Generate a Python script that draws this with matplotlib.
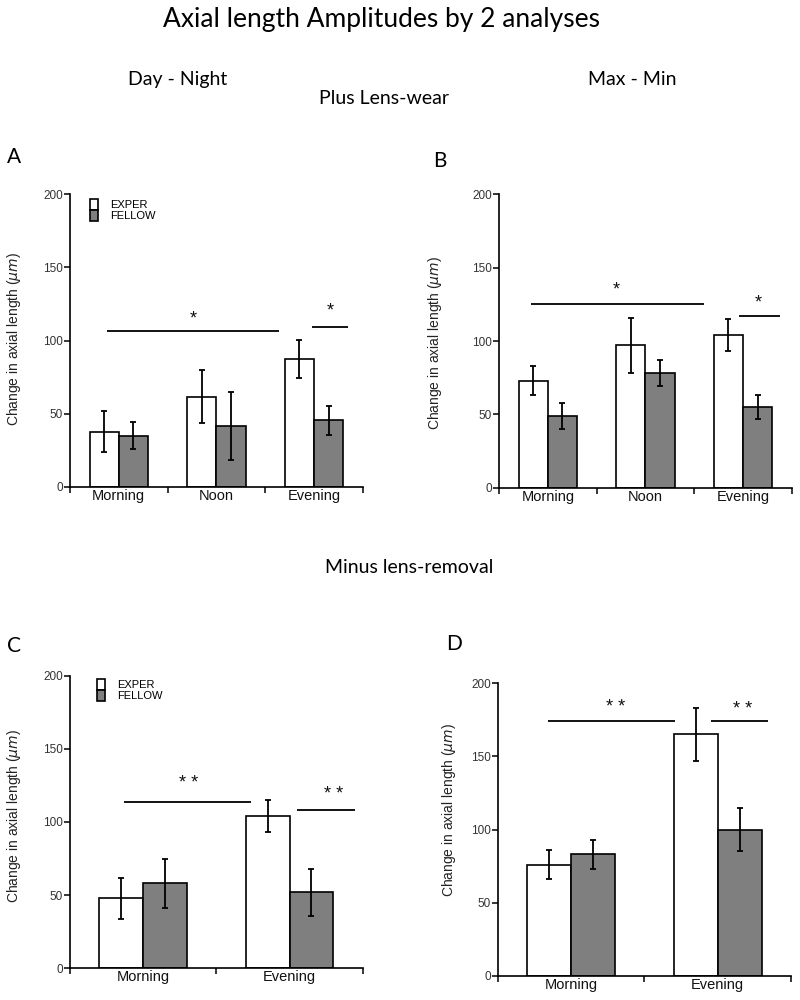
import matplotlib
matplotlib.use("Agg")
import matplotlib.pyplot as plt
import numpy as np

# ---- data ----
cats_3 = ["Morning", "Noon", "Evening"]
cats_2 = ["Morning", "Evening"]

a_exper = [37.5, 61.5, 87.5]
a_exper_err = [14, 18, 13]
a_fellow = [35, 41.5, 45.5]
a_fellow_err = [9, 23, 10]

b_exper = [73, 97, 104]
b_exper_err = [10, 19, 11]
b_fellow = [49, 78, 55]
b_fellow_err = [9, 9, 8]

c_exper = [48, 104]
c_exper_err = [14, 11]
c_fellow = [58, 52]
c_fellow_err = [17, 16]

d_exper = [76, 165]
d_exper_err = [10, 18]
d_fellow = [83, 100]
d_fellow_err = [10, 15]

# significance annotations: (x_start, x_end, y_line, star_x, star_y, label)
a_sig = [(-0.12, 1.64, 106.5, 0.76, 115, "*"), (1.98, 2.35, 109.5, 2.17, 120, "*")]
b_sig = [(-0.17, 1.60, 125, 0.70, 134.5, "*"), (1.96, 2.38, 117, 2.16, 126, "*")]
c_sig = [(-0.13, 0.735, 114, 0.31, 126, "* *"), (1.054, 1.448, 108, 1.30, 118.5, "* *")]
d_sig = [(-0.16, 0.71, 174, 0.306, 183, "* *"), (0.952, 1.342, 174, 1.167, 182, "* *")]

series_labels = ["EXPER", "FELLOW"]
yticks = [0, 50, 100, 150, 200]

AX_FONT = "Liberation Sans"
HEAD_FONT = "Lato"
GRAY = "#7f7f7f"

fig = plt.figure(figsize=(8, 10), dpi=100)

def panel(rect, cats, exper, exper_err, fellow, fellow_err, sigs, legend_pos, ylab_pos):
    ax = fig.add_axes(rect)
    x = np.arange(len(cats))
    w = 0.3
    b1 = ax.bar(x - w / 2, exper, w, color="white", edgecolor="black", linewidth=1.2,
                label=series_labels[0], zorder=2)
    b2 = ax.bar(x + w / 2, fellow, w, color=GRAY, edgecolor="black", linewidth=1.2,
                label=series_labels[1], zorder=2)
    ax.errorbar(x - w / 2, exper, yerr=exper_err, fmt="none", ecolor="black",
                elinewidth=1.3, capsize=2.5, capthick=1.3, zorder=3)
    ax.errorbar(x + w / 2, fellow, yerr=fellow_err, fmt="none", ecolor="black",
                elinewidth=1.3, capsize=2.5, capthick=1.3, zorder=3)
    for (x0, x1, yl, sx, sy, lab) in sigs:
        ax.plot([x0, x1], [yl, yl], color="black", lw=1.3, solid_capstyle="butt")
        ax.text(sx, sy, lab, ha="center", va="center", fontsize=13,
                family=AX_FONT, color="#111111")
    ax.set_xlim(-0.5, len(cats) - 0.5)
    ax.set_ylim(0, 200)
    ax.set_yticks(yticks)
    ax.set_yticklabels([str(t) for t in yticks], family=AX_FONT, fontsize=8.5, color="#333333")
    ax.set_xticks(x)
    ax.set_xticklabels(cats, family=AX_FONT, fontsize=10.5, color="#111111")
    ax.set_xticks(np.arange(len(cats) + 1) - 0.5, minor=True)
    ax.tick_params(axis="x", which="major", length=0, pad=1.5)
    ax.tick_params(axis="x", which="minor", length=4, width=1.1, direction="out")
    ax.tick_params(axis="y", length=4, width=1.1, direction="out", pad=1)
    for s in ["top", "right"]:
        ax.spines[s].set_visible(False)
    for s in ["left", "bottom"]:
        ax.spines[s].set_linewidth(1.2)
    ax.set_ylabel("Change in axial length ($\\mu m$)", family=AX_FONT, fontsize=10,
                  color="#222222", va="center")
    ax.yaxis.set_label_coords(*ylab_pos)
    if legend_pos is not None:
        ax.legend(handles=[b1, b2], loc="upper left", bbox_to_anchor=legend_pos,
                  frameon=False, prop={"family": AX_FONT, "size": 8},
                  handlelength=0.75, handleheight=1.15, labelspacing=0.0,
                  handletextpad=1.1, borderpad=0, borderaxespad=0)
    return ax

panel([0.0875, 0.5133, 0.3659, 0.2924], cats_3, a_exper, a_exper_err, a_fellow, a_fellow_err,
      a_sig, (0.068, 0.985), (-0.19, 0.505))
panel([0.6238, 0.5123, 0.3659, 0.2934], cats_3, b_exper, b_exper_err, b_fellow, b_fellow_err,
      b_sig, None, (-0.218, 0.494))
panel([0.0875, 0.0317, 0.3659, 0.2926], cats_2, c_exper, c_exper_err, c_fellow, c_fellow_err,
      c_sig, (0.091, 0.99), (-0.19, 0.52))
panel([0.6221, 0.0240, 0.3666, 0.2930], cats_2, d_exper, d_exper_err, d_fellow, d_fellow_err,
      d_sig, None, (-0.166, 0.566))

def ftext(xp, yp, s, size, **kw):
    fig.text(xp / 800, 1 - yp / 1000, s, fontsize=size, family=HEAD_FONT,
             ha="center", va="baseline", color="black", **kw)

ftext(381.5, 27, "Axial length Amplitudes by 2 analyses", 19)
ftext(178, 85, "Day - Night", 14)
ftext(632, 85, "Max - Min", 14)
ftext(384, 104, "Plus Lens-wear", 14)
ftext(409, 573, "Minus lens-removal", 14)

for lab, xp, yp in [("A", 14, 163), ("B", 440, 167), ("C", 14, 652), ("D", 454, 650)]:
    fig.text(xp / 800, 1 - yp / 1000, lab, fontsize=15, family=HEAD_FONT,
             ha="center", va="baseline", color="black")

fig.savefig("out.png", dpi=100)
